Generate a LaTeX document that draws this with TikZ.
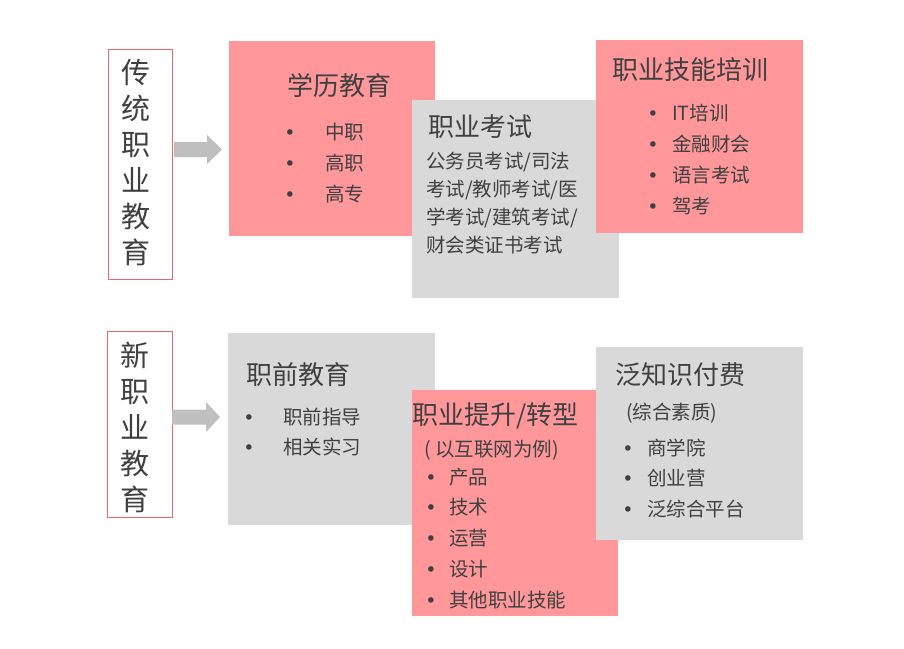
\documentclass[tikz,border=0pt]{standalone}
\usepackage{fontspec}
\setmainfont{Noto Sans CJK SC}
\newfontfamily\bulfont{DejaVu Sans}
\definecolor{pinkbox}{RGB}{255,151,155}
\definecolor{graybox}{RGB}{217,217,217}
\definecolor{txt}{RGB}{64,64,64}
\definecolor{outl}{RGB}{235,100,110}
\definecolor{arr}{RGB}{191,191,191}
\begin{document}
\begin{tikzpicture}[x=1pt,y=-1pt,
  box/.style={inner sep=0pt, outer sep=0pt, anchor=north west},
  pinkb/.style={box, fill=pinkbox},
  grayb/.style={box, fill=graybox},
  sidebox/.style={box, draw=outl, line width=0.9pt},
  vert/.style={text=txt, align=center, inner sep=0pt, font=\fontsize{29}{36}\selectfont},
  ttl/.style={text=txt, anchor=west, inner sep=0pt, font=\fontsize{26}{30}\selectfont},
  itm/.style={text=txt, anchor=west, inner sep=0pt, font=\fontsize{19.5}{28}\selectfont},
  bul/.style={text=txt, inner sep=0pt, yshift=-2.5pt, font=\bulfont\fontsize{19}{20}\selectfont},
  arrowshape/.style={fill=arr}
]
\useasboundingbox (0,0) rectangle (904,648);
\fill[white] (0,0) rectangle (904,648);

% ---------- top row ----------
\node[sidebox, minimum width=64pt, minimum height=230pt] (s1) at (108,49) {};
\node[vert] (s1t) at (136,163) {传\\统\\职\\业\\教\\育};
\fill[arrowshape] (174,142) -- (207,142) -- (207,135) -- (222,149.5) -- (207,164) -- (207,157) -- (174,157) -- cycle;

\node[pinkb, minimum width=206pt, minimum height=195pt] (xl) at (229,41) {};
\node[grayb, minimum width=207pt, minimum height=198pt] (ks) at (412,100) {};
\node[pinkb, minimum width=207pt, minimum height=193pt] (jn) at (596,40) {};

\node[ttl] (xlt) at (287,86) {学历教育};
\node[bul] (xb1) at (290,132) {•};
\node[bul] (xb2) at (290,163) {•};
\node[bul] (xb3) at (290,194) {•};
\node[itm] (xi1) at (325,132) {中职};
\node[itm] (xi2) at (325,163) {高职};
\node[itm] (xi3) at (325,194) {高专};

\node[ttl] (kst) at (428,127) {职业考试};
\node[itm, align=left] (ksb) at (426,203) {公务员考试/司法\\考试/教师考试/医\\学考试/建筑考试/\\财会类证书考试};

\node[ttl] (jnt) at (612,70) {职业技能培训};
\node[bul] (jb1) at (653,113) {•};
\node[bul] (jb2) at (653,144) {•};
\node[bul] (jb3) at (653,175) {•};
\node[bul] (jb4) at (653,206) {•};
\node[itm] (ji1) at (672,113) {IT培训};
\node[itm] (ji2) at (672,144) {金融财会};
\node[itm] (ji3) at (672,175) {语言考试};
\node[itm] (ji4) at (672,206) {驾考};

% ---------- bottom row ----------
\node[sidebox, minimum width=65pt, minimum height=186pt] (s2) at (107,331) {};
\node[vert] (s2t) at (135,427.5) {新\\职\\业\\教\\育};
\fill[arrowshape] (172,409.5) -- (206,409.5) -- (206,402) -- (220,417) -- (206,432) -- (206,424.5) -- (172,424.5) -- cycle;

\node[grayb, minimum width=207pt, minimum height=192pt] (zq) at (228,333) {};
\node[pinkb, minimum width=206pt, minimum height=226pt] (ts) at (412,390) {};
\node[grayb, minimum width=207pt, minimum height=193pt] (fz) at (596,347) {};

\node[ttl] (zqt) at (246,375) {职前教育};
\node[bul] (zb1) at (249,417) {•};
\node[bul] (zb2) at (249,447) {•};
\node[itm] (zi1) at (283,417) {职前指导};
\node[itm] (zi2) at (283,447) {相关实习};

\node[ttl] (tst) at (412,416) {职业提升/转型};
\node[itm] (tss) at (424,450) {( 以互联网为例)};
\node[bul] (tb1) at (431,477) {•};
\node[bul] (tb2) at (431,507) {•};
\node[bul] (tb3) at (431,538) {•};
\node[bul] (tb4) at (431,569) {•};
\node[bul] (tb5) at (431,600) {•};
\node[itm] (ti1) at (449,477) {产品};
\node[itm] (ti2) at (449,507) {技术};
\node[itm] (ti3) at (449,538) {运营};
\node[itm] (ti4) at (449,569) {设计};
\node[itm] (ti5) at (449,600) {其他职业技能};

\node[ttl] (fzt) at (615,375) {泛知识付费};
\node[itm] (fzs) at (626,413) {(综合素质)};
\node[bul] (fb1) at (628,448) {•};
\node[bul] (fb2) at (628,478) {•};
\node[bul] (fb3) at (628,509) {•};
\node[itm] (fi1) at (647,448) {商学院};
\node[itm] (fi2) at (647,478) {创业营};
\node[itm] (fi3) at (647,509) {泛综合平台};
\end{tikzpicture}
\end{document}
